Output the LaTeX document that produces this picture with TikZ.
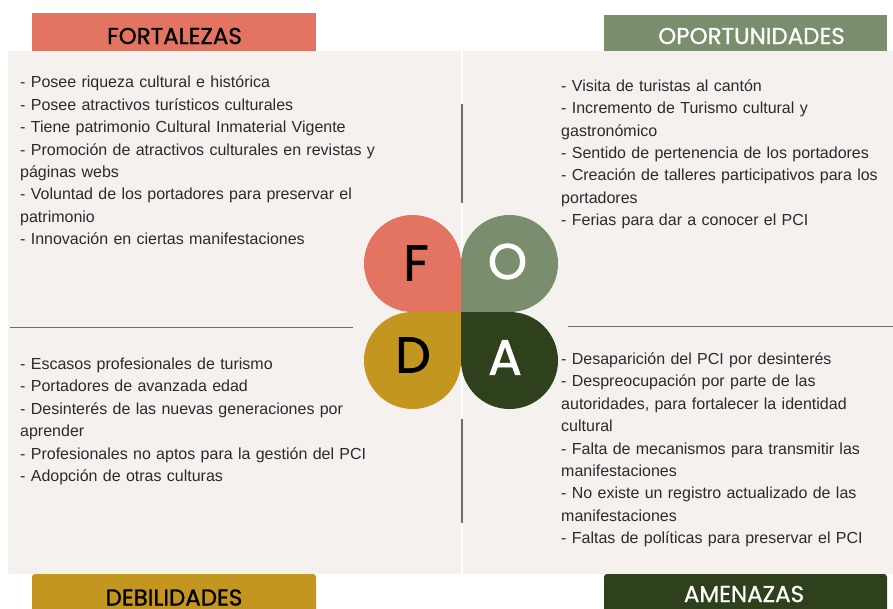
\documentclass[tikz,border=0pt]{standalone}
\usepackage{fontspec}
\setmainfont{Liberation Sans}
\newfontfamily\popfont[FakeBold=1]{Poppins}
\newfontfamily\popfontb[FakeBold=1.6]{Poppins}
\definecolor{panelbg}{HTML}{F4F1EE}
\definecolor{cF}{HTML}{E37461}
\definecolor{cO}{HTML}{7A8E6D}
\definecolor{cD}{HTML}{C2961F}
\definecolor{cA}{HTML}{2E401C}
\definecolor{txt}{HTML}{2B2B2B}
\definecolor{rulegray}{HTML}{6E6E6E}
\begin{document}
\begin{tikzpicture}[x=1pt,y=-1pt,
  bodytxt/.style={anchor=north west, inner sep=0pt, align=left, text=txt,
    font=\fontsize{16}{22.45}\selectfont},
  hdrtxt/.style={inner sep=0pt, font=\popfont\fontsize{23}{23}\selectfont},
  petaltxt/.style={inner sep=0pt, font=\popfontb\fontsize{50}{50}\selectfont},
  divider/.style={draw=rulegray, line width=1.8pt}]
\useasboundingbox (0,0) rectangle (893,609);
\fill[white] (0,0) rectangle (893,609);
% panels
\fill[panelbg] (8,51) rectangle (461,574);
\fill[panelbg] (463,51) rectangle (893,574);
% headers
\fill[cF] (32,13) rectangle (316,51);
\fill[cO] (604,15) rectangle (887,51);
\fill[cD, rounded corners=3pt] (32,615) -- (32,574) -- (316,574) -- (316,615) -- cycle;
\fill[cA, rounded corners=3pt] (604,615) -- (604,574) -- (887,574) -- (887,615) -- cycle;
\node[hdrtxt, text=black] (hF) at (174.5,36) {FORTALEZAS};
\node[hdrtxt, text=white] (hO) at (751.5,36) {OPORTUNIDADES};
\node[hdrtxt, text=black] (hD) at (174,597.5) {DEBILIDADES};
\node[hdrtxt, text=white] (hA) at (744,594) {AMENAZAS};
% dividers
\draw[divider] (10,327.5) -- (353,327.5);
\draw[divider] (568,326.5) -- (893,326.5);
\draw[divider] (462,104) -- (462,203);
\draw[divider] (462,419) -- (462,523);
% petals
\fill[cF] (461,312) -- (461,263.5) arc[start angle=0, end angle=-270, radius=48.5] -- cycle;
\fill[cO] (461,312) -- (461,263.5) arc[start angle=180, end angle=450, radius=48.5] -- cycle;
\fill[cD] (461,312) -- (461,360.5) arc[start angle=0, end angle=270, radius=48.5] -- cycle;
\fill[cA] (461,312) -- (461,360.5) arc[start angle=180, end angle=-90, radius=48.5] -- cycle;
\node[petaltxt, text=black] (lF) at (416,263) {F};
\node[petaltxt, text=white] (lO) at (507.5,261.5) {O};
\node[petaltxt, text=black] (lD) at (413,355) {D};
\node[petaltxt, text=white] (lA) at (505,357.5) {A};
% texts
\node[bodytxt, text width=430pt] (tF) at (20,72.5) {\rule{0pt}{15pt}- Posee riqueza cultural e histórica\\
- Posee atractivos turísticos culturales\\
- Tiene patrimonio Cultural Inmaterial Vigente\\
- Promoción de atractivos culturales en revistas y\\
páginas webs\\
- Voluntad de los portadores para preservar el\\
patrimonio\\
- Innovación en ciertas manifestaciones};
\node[bodytxt, text width=330pt] (tO) at (561,76) {\rule{0pt}{15pt}- Visita de turistas al cantón\\
- Incremento de Turismo cultural y\\
gastronómico\\
- Sentido de pertenencia de los portadores\\
- Creación de talleres participativos para los\\
portadores\\
- Ferias para dar a conocer el PCI};
\node[bodytxt, text width=430pt] (tD) at (20,354.3) {\rule{0pt}{15pt}- Escasos profesionales de turismo\\
- Portadores de avanzada edad\\
- Desinterés de las nuevas generaciones por\\
aprender\\
- Profesionales no aptos para la gestión del PCI\\
- Adopción de otras culturas};
\node[bodytxt, text width=330pt] (tA) at (561,349) {\rule{0pt}{15pt}- Desaparición del PCI por desinterés\\
- Despreocupación por parte de las\\
autoridades, para fortalecer la identidad\\
cultural\\
- Falta de mecanismos para transmitir las\\
manifestaciones\\
- No existe un registro actualizado de las\\
manifestaciones\\
- Faltas de políticas para preservar el PCI};
\end{tikzpicture}
\end{document}
